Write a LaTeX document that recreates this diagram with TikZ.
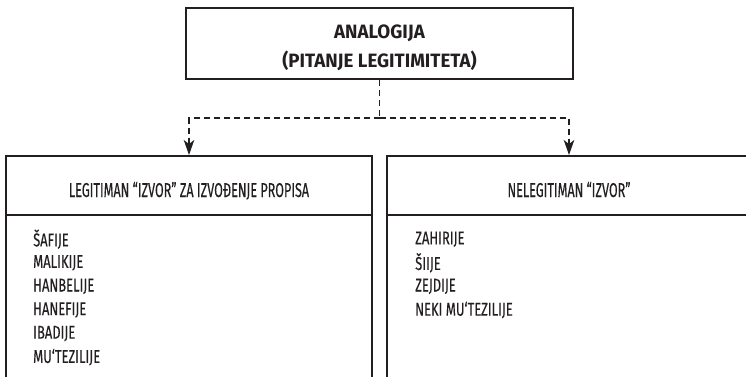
\documentclass[tikz,border=0pt]{standalone}
\usepackage{fontspec}
\setmainfont{Fira Sans}[FakeStretch=0.63,FakeBold=0.3]
\newfontfamily\listfont{Fira Sans}[FakeStretch=0.7,FakeBold=0.3]
\newfontfamily\titlefont{Fira Sans}[FakeStretch=0.97]
\usetikzlibrary{arrows.meta,positioning}
\definecolor{ink}{RGB}{35,31,32}
\begin{document}
\begin{tikzpicture}[x=1pt,y=-1pt,>={Stealth[length=15pt,width=10.5pt,inset=4pt]},
  box/.style={draw=ink,line width=2pt,minimum height=59pt,inner sep=0pt,text=ink},
  head/.style={box,text height=23pt,text depth=0pt,font=\fontsize{20}{23}\selectfont},
  item/.style={anchor=west,inner sep=0pt,font=\listfont\fontsize{18.5}{22}\selectfont,text=ink},
  link/.style={draw=ink,line width=1.6pt,dash pattern=on 6pt off 4pt}]
\clip (0,0) rectangle (746,376);
% top box
\node[box,minimum width=387pt,minimum height=71pt] (analog) at (379.5,43.5) {};
\node[inner sep=0pt,align=center,text=ink,font=\titlefont\bfseries\fontsize{19.3}{29}\selectfont]
  (analogtitle) at (379.5,48) {ANALOGIJA\\(PITANJE LEGITIMITETA)};
% the two columns
\node[head,minimum width=366pt] (legit) at (189,185.5) {LEGITIMAN “IZVOR” ZA IZVOĐENJE PROPISA};
\node[box,minimum width=366pt,minimum height=185pt] (legitbody) at (189,307.5) {};
\node[head,minimum width=364pt] (nelegit) at (569,185.5) {NELEGITIMAN “IZVOR”};
\node[box,minimum width=364pt,minimum height=185pt] (nelegitbody) at (569,307.5) {};
\foreach \sch [count=\i] in {ŠAFIJE,MALIKIJE,HANBELIJE,HANEFIJE,IBADIJE,MU‘TEZILIJE}
  \node[item] (left\i) at (33,{215.6+23.6*\i}) {\sch};
\foreach \sch [count=\i] in {ZAHIRIJE,ŠIIJE,ZEJDIJE,NEKI MU‘TEZILIJE}
  \node[item] (right\i) at (415,{215.6+23.6*\i}) {\sch};
% dashed links
\coordinate (split) at (379.5,118);
\draw[link] (analog.south) -- (split);
\draw[link,->] (split) -| (legit.north);
\draw[link,->] (split) -| (nelegit.north);
\end{tikzpicture}
\end{document}
